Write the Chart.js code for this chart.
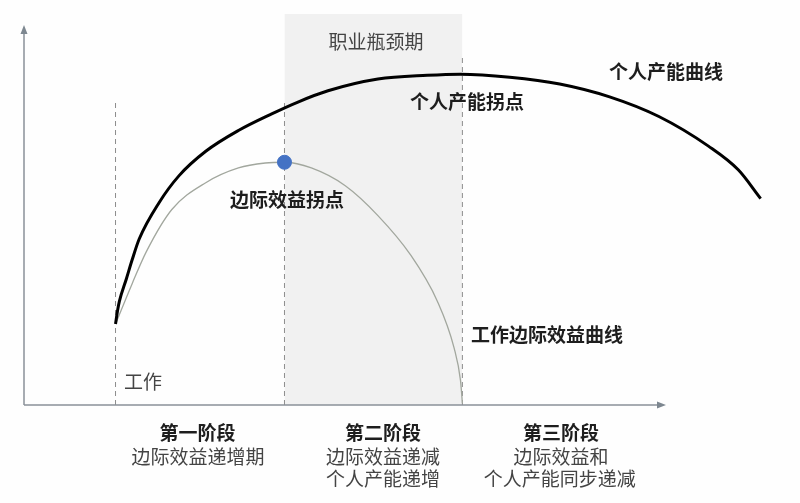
<!DOCTYPE html>
<html>
<head>
<meta charset="utf-8">
<script src="https://cdn.jsdelivr.net/npm/chart.js@4"></script>
<style>
html,body{margin:0;padding:0;background:#fefefe;}
#wrap{width:800px;height:503px;position:relative;}
</style>
</head>
<body>
<div id="wrap"><canvas id="c"></canvas></div>
<script>
// ---- data (x: career time, y: output level) ----
const productivityX = [14.3, 14.6, 14.9, 16.0, 16.9, 18.0, 21.1, 24.2, 28.4, 33.5, 38.7, 42.9, 47.5, 55.3, 63.0, 68.2, 75.9, 83.7, 91.5, 99.2, 107.0, 111.6, 115.1];
const productivityY = [21.4, 24.8, 27.4, 33.4, 38.4, 43.9, 53.5, 60.6, 67.1, 72.6, 77.0, 80.2, 83.1, 86.2, 87.2, 87.5, 86.7, 84.9, 81.5, 76.3, 68.4, 62.2, 54.6];
const marginalX = [14.3, 16.9, 19.1, 23.1, 28.4, 33.5, 37.7, 40.7, 44.9, 50.2, 55.3, 60.4, 64.6, 67.2, 68.2, 68.5];
const marginalY = [21.4, 32.1, 40.5, 51.7, 58.8, 62.7, 64.0, 64.2, 62.7, 58.0, 50.1, 39.7, 27.4, 15.1, 6.5, 0.5];
const inflectionPoint = [40.7, 64.2];
const stageBounds = [14.3, 40.7, 68.5];
const boundTops = [80.4, 80.4, 92.7];
const bottleneckTop = 103.4;
const axisMax = [100, 100];

const toPts = (xs, ys) => xs.map((x, i) => ({x, y: ys[i]}));

// ---- annotations (text) ----
const CJK = '"Noto Sans CJK SC", "Noto Sans", sans-serif';
const notes = [
  {t: '职业瓶颈期', x: 55.0, y: 96.1, bold: false},
  {t: '个人产能曲线', x: 100.3, y: 88.1, bold: true},
  {t: '个人产能拐点', x: 69.2, y: 80.2, bold: true},
  {t: '边际效益拐点', x: 41.1, y: 54.2, bold: true},
  {t: '工作边际效益曲线', x: 81.7, y: 18.7, bold: true},
  {t: '工作', x: 18.6, y: 6.1, bold: false},
  {t: '第一阶段', x: 27.1, y: -7.4, bold: true},
  {t: '边际效益递增期', x: 27.2, y: -13.6, bold: false},
  {t: '第二阶段', x: 56.1, y: -7.4, bold: true},
  {t: '边际效益递减', x: 56.1, y: -13.6, bold: false},
  {t: '个人产能递增', x: 56.1, y: -19.6, bold: false},
  {t: '第三阶段', x: 83.9, y: -7.4, bold: true},
  {t: '边际效益和', x: 83.9, y: -13.6, bold: false},
  {t: '个人产能同步递减', x: 83.7, y: -19.6, bold: false}
];

const datasets = [
  {
    label: 'bottleneck',
    data: [{x: stageBounds[1], y: bottleneckTop}, {x: stageBounds[2], y: bottleneckTop}],
    showLine: true, borderWidth: 0, borderColor: 'rgba(0,0,0,0)',
    backgroundColor: '#f1f1f1', fill: 'origin', pointRadius: 0, order: 10
  },
  ...stageBounds.map((b, i) => ({
    label: 'bound' + i,
    data: [{x: b, y: 0}, {x: b, y: boundTops[i]}],
    showLine: true, borderColor: '#8d8d8d', borderWidth: 1, borderDash: [5, 4],
    pointRadius: 0, order: 5
  })),
  {
    label: '工作边际效益曲线',
    data: toPts(marginalX, marginalY),
    showLine: true, borderColor: '#a2a79e', borderWidth: 1.3,
    cubicInterpolationMode: 'monotone',
    pointRadius: 0, order: 3
  },
  {
    label: '个人产能曲线',
    data: toPts(productivityX, productivityY),
    showLine: true, borderColor: '#000000', borderWidth: 3,
    cubicInterpolationMode: 'monotone',
    pointRadius: 0, order: 2
  },
  {
    label: '边际效益拐点',
    data: [{x: inflectionPoint[0], y: inflectionPoint[1]}],
    showLine: false, pointRadius: 7, pointBackgroundColor: '#4472c4',
    pointBorderColor: '#4472c4', order: 1
  }
];

const axesPlugin = {
  id: 'axes',
  afterDatasetsDraw(chart) {
    const {ctx, scales: {x, y}} = chart;
    const x0 = x.getPixelForValue(0), y0 = y.getPixelForValue(0);
    const xe = x.getPixelForValue(axisMax[0]), ye = y.getPixelForValue(axisMax[1]);
    ctx.save();
    ctx.strokeStyle = '#8a9199';
    ctx.fillStyle = '#7d8790';
    ctx.lineWidth = 1.5;
    ctx.beginPath();
    ctx.moveTo(x0, y0); ctx.lineTo(xe - 4, y0);
    ctx.moveTo(x0, y0); ctx.lineTo(x0, ye + 4);
    ctx.stroke();
    ctx.beginPath();
    ctx.moveTo(xe + 2, y0); ctx.lineTo(xe - 7, y0 - 3.5); ctx.lineTo(xe - 7, y0 + 3.5); ctx.closePath();
    ctx.moveTo(x0, ye - 2); ctx.lineTo(x0 - 3.5, ye + 7); ctx.lineTo(x0 + 3.5, ye + 7); ctx.closePath();
    ctx.fill();
    ctx.restore();
  },
  afterDraw(chart) {
    const {ctx, scales: {x, y}} = chart;
    ctx.save();
    ctx.textAlign = 'center';
    ctx.textBaseline = 'middle';
    notes.forEach(n => {
      ctx.font = (n.bold ? '600 ' : '400 ') + '19px ' + CJK;
      ctx.fillStyle = n.bold ? '#1e1e1e' : '#444444';
      ctx.fillText(n.t, x.getPixelForValue(n.x), y.getPixelForValue(n.y));
    });
    ctx.restore();
  }
};

new Chart(document.getElementById('c'), {
  type: 'scatter',
  data: {datasets},
  options: {
    responsive: true,
    maintainAspectRatio: false,
    animation: false,
    layout: {padding: {left: 24, right: 3, top: 3, bottom: 98}},
    scales: {
      x: {type: 'linear', min: 0, max: 120, display: false},
      y: {type: 'linear', min: 0, max: 105, display: false}
    },
    plugins: {legend: {display: false}, tooltip: {enabled: false}}
  },
  plugins: [axesPlugin]
});
</script>
</body>
</html>
